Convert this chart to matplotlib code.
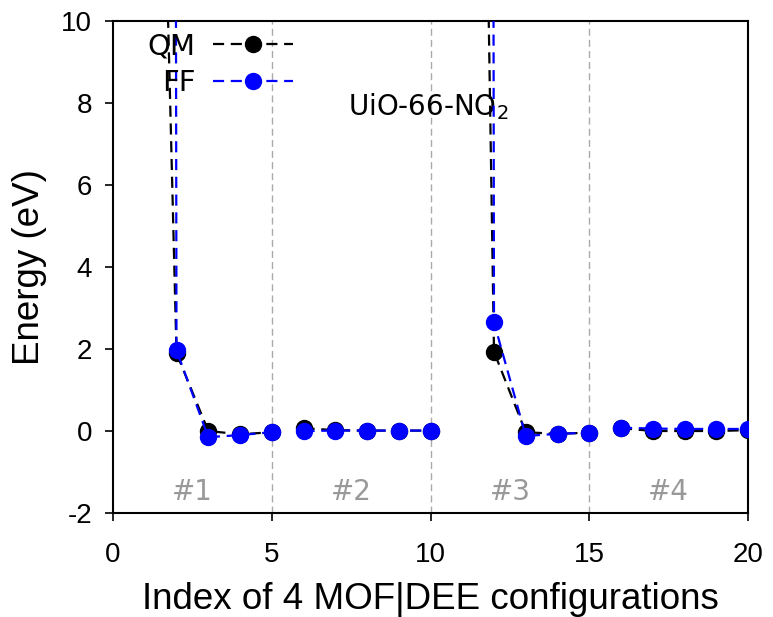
import matplotlib
matplotlib.use("Agg")
import matplotlib.pyplot as plt
from matplotlib.lines import Line2D

plt.rcParams['axes.unicode_minus'] = False

# Data
index = list(range(1, 21))
qm = [32.5, 1.90, 0.00, -0.08, -0.03,
      0.07, 0.02, 0.01, 0.01, 0.01,
      50.7, 1.93, -0.03, -0.07, -0.04,
      0.07, 0.00, 0.00, 0.00, 0.02]
ff = [500.0, 1.97, -0.15, -0.10, -0.03,
      0.00, 0.01, 0.01, 0.01, 0.01,
      500.0, 2.65, -0.12, -0.07, -0.04,
      0.08, 0.06, 0.05, 0.05, 0.05]
group_size = 5
separators = [5, 10, 15]
group_labels = ['#1', '#2', '#3', '#4']
group_centers = [2.5, 7.5, 12.5, 17.5]
xticks = [0, 5, 10, 15, 20]
yticks = [-2, 0, 2, 4, 6, 8, 10]

fig = plt.figure(figsize=(7.73, 6.17), dpi=100)
ax = fig.add_axes([113/773, 1-513/617, (748-113)/773, (513-21)/617])

for s in separators:
    ax.axvline(s, color='#aaaaaa', lw=1.0, ls=(0, (5, 3)), zorder=1)

dash = (0, (5, 3))
for g in range(len(group_labels)):
    sl = slice(g*group_size, (g+1)*group_size)
    ax.plot(index[sl], qm[sl], color='black', lw=1.6, ls=dash, marker='o', ms=11.5,
            mfc='black', mec='black', zorder=3)
for g in range(len(group_labels)):
    sl = slice(g*group_size, (g+1)*group_size)
    ax.plot(index[sl], ff[sl], color='#0000ff', lw=1.6, ls=dash, marker='o', ms=11.5,
            mfc='#0000ff', mec='#0000ff', zorder=4)

for lab, cx in zip(group_labels, group_centers):
    ax.text(cx, -1.5, lab, color='#999999', fontsize=20, ha='center', va='center',
            family='DejaVu Sans')

ax.text(7.4, 7.92, 'UiO-66-NO$_2$', fontsize=20, ha='left', va='center',
        family='DejaVu Sans')

handles = [Line2D([], [], color='black', lw=1.6, ls=dash, marker='o', ms=11.5),
           Line2D([], [], color='#0000ff', lw=1.6, ls=dash, marker='o', ms=11.5)]
leg = ax.legend(handles, ['QM', 'FF'], loc='upper left', bbox_to_anchor=(0.036, 1.0),
                frameon=False, markerfirst=False, handlelength=2.75, handletextpad=0.6,
                labelspacing=0.28, prop={'family': 'DejaVu Sans', 'size': 21},
                borderaxespad=0)
for t in leg.get_texts():
    t.set_ha('right')

ax.set_xlim(0, 20)
ax.set_ylim(-2, 10)
ax.set_xticks(xticks)
ax.set_yticks(yticks)
ax.tick_params(direction='out', length=6, width=1.2, top=False, right=False)
ax.tick_params(axis='x', pad=15)
ax.tick_params(axis='y', pad=9)
for lab in ax.get_xticklabels() + ax.get_yticklabels():
    lab.set_family('Liberation Sans')
    lab.set_fontsize(20)
for sp in ax.spines.values():
    sp.set_linewidth(1.5)

ax.set_xlabel('Index of 4 MOF|DEE configurations', fontsize=26.5, family='Liberation Sans', labelpad=10)
ax.set_ylabel('Energy (eV)', fontsize=26.5, family='Liberation Sans', labelpad=10)

fig.savefig('out.png', dpi=100)
